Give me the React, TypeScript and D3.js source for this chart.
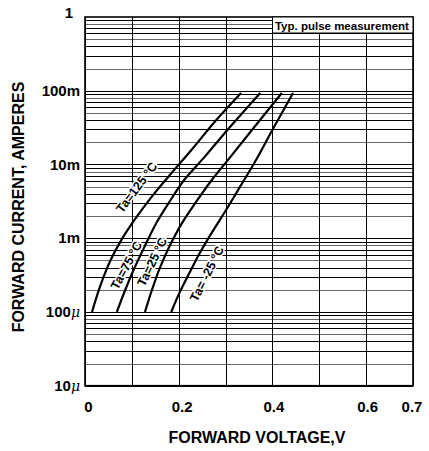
import React, { useRef, useEffect } from "react";
import * as d3 from "d3";

// x ticks (volts) and y ticks (amperes)
const xTickValues = [0, 0.2, 0.4, 0.6, 0.7];
const xGridValues = [0, 0.1, 0.2, 0.3, 0.4, 0.5, 0.6, 0.7];
const yTickValues = [1e-5, 1e-4, 1e-3, 1e-2, 1e-1, 1];
const yTickLabels = ["10", "100", "1m", "10m", "100m", "1"];
const yTickMu = [true, true, false, false, false, false];

// curves: forward voltage (V) / forward current (A)
const v125 = [0.015, 0.032, 0.053, 0.079, 0.109, 0.143, 0.181, 0.228, 0.277, 0.333];
const i125 = [1e-4, 2.2e-4, 4.8e-4, 9.8e-4, 1.9e-3, 3.7e-3, 7.2e-3, 1.6e-2, 3.8e-2, 9.3e-2];
const v75 = [0.068, 0.086, 0.106, 0.128, 0.152, 0.18, 0.212, 0.252, 0.299, 0.374];
const i75 = [1e-4, 2.0e-4, 4.0e-4, 7.9e-4, 1.6e-3, 3.1e-3, 6.2e-3, 1.2e-2, 2.7e-2, 9.3e-2];
const v25 = [0.128, 0.143, 0.16, 0.181, 0.207, 0.237, 0.271, 0.31, 0.361, 0.42];
const i25 = [1e-4, 2.0e-4, 4.0e-4, 7.9e-4, 1.6e-3, 3.1e-3, 6.2e-3, 1.26e-2, 3.2e-2, 9.3e-2];
const vm25 = [0.184, 0.203, 0.224, 0.245, 0.271, 0.299, 0.331, 0.365, 0.403, 0.444];
const im25 = [1e-4, 1.9e-4, 3.5e-4, 6.3e-4, 1.2e-3, 2.3e-3, 5.0e-3, 1.15e-2, 3.2e-2, 9.3e-2];

const seriesNames = ["Ta=125 °C", "Ta=75 °C", "Ta=25 °C", "Ta= -25 °C"];
// where each label sits (in data units) and its slant
const labelV = [0.11, 0.088, 0.143, 0.26];
const labelI = [4.9e-3, 4.3e-4, 4.8e-4, 3.3e-4];
const labelAngle = [-53, -62, -64, -63];

const noteText = "Typ. pulse measurement";

const FONT = "'Liberation Sans', Arial, sans-serif";

const App = () => {
  const svgRef = useRef<SVGSVGElement | null>(null);

  useEffect(() => {
    const svg = d3.select(svgRef.current);
    svg.selectAll("*").remove();

    const width = 429;
    const height = 451;
    const margin = { top: 17, right: 16, bottom: 65.3, left: 85 };

    const x = d3
      .scaleLinear()
      .domain([0, 0.7])
      .range([margin.left, width - margin.right]);
    const y = d3
      .scaleLog()
      .domain([1e-5, 1])
      .range([height - margin.bottom, margin.top]);

    const g = svg.append("g");

    // background
    g.append("rect")
      .attr("x", x(0))
      .attr("y", y(1))
      .attr("width", x(0.7) - x(0))
      .attr("height", y(1e-5) - y(1))
      .attr("fill", "white");

    // horizontal log grid
    const minor: number[] = [];
    for (let e = -5; e < 0; e++) {
      for (let k = 1; k <= 9; k++) minor.push(k * Math.pow(10, e));
    }
    g.append("g")
      .selectAll("line")
      .data(minor)
      .join("line")
      .attr("x1", x(0))
      .attr("x2", x(0.7))
      .attr("y1", (d) => Math.round(y(d)) + 0.5)
      .attr("y2", (d) => Math.round(y(d)) + 0.5)
      .attr("stroke", (d, i) => (i % 3 === 1 ? "#666" : "#000"))
      .attr("stroke-width", 1);

    // vertical grid
    g.append("g")
      .selectAll("line")
      .data(xGridValues)
      .join("line")
      .attr("x1", (d) => Math.round(x(d)) + 0.5)
      .attr("x2", (d) => Math.round(x(d)) + 0.5)
      .attr("y1", y(1))
      .attr("y2", y(1e-5))
      .attr("stroke", "#000")
      .attr("stroke-width", 1);

    // frame
    g.append("rect")
      .attr("x", x(0))
      .attr("y", y(1))
      .attr("width", x(0.7) - x(0))
      .attr("height", y(1e-5) - y(1))
      .attr("fill", "none")
      .attr("stroke", "#000")
      .attr("stroke-width", 1.6);

    // curves
    const line = d3
      .line<[number, number]>()
      .x((d) => x(d[0]))
      .y((d) => y(d[1]))
      .curve(d3.curveCatmullRom.alpha(0.5));

    const curves = [
      [v125, i125],
      [v75, i75],
      [v25, i25],
      [vm25, im25],
    ];
    curves.forEach(([vs, is]) => {
      g.append("path")
        .datum(vs.map((v, i) => [v, is[i]] as [number, number]))
        .attr("fill", "none")
        .attr("stroke", "#000")
        .attr("stroke-width", 2.2)
        .attr("d", line);
    });

    // curve labels, white halo over the grid
    seriesNames.forEach((name, i) => {
      g.append("text")
        .attr(
          "transform",
          `translate(${x(labelV[i])},${y(labelI[i])}) rotate(${labelAngle[i]})`
        )
        .attr("text-anchor", "middle")
        .attr("dy", "0.35em")
        .attr("font-family", FONT)
        .attr("font-weight", "bold")
        .attr("font-size", 12.5)
        .attr("fill", "#000")
        .attr("stroke", "white")
        .attr("stroke-width", 3)
        .attr("stroke-linejoin", "round")
        .attr("paint-order", "stroke")
        .text(name);
    });

    // note box
    const noteX = x(0.4);
    g.append("rect")
      .attr("x", Math.round(noteX) + 0.5)
      .attr("y", y(1))
      .attr("width", x(0.7) - Math.round(noteX) - 0.5)
      .attr("height", 16)
      .attr("fill", "white")
      .attr("stroke", "#000")
      .attr("stroke-width", 1);
    g.append("text")
      .attr("x", noteX + 2.5)
      .attr("y", y(1) + 12.5)
      .attr("font-family", FONT)
      .attr("font-weight", "bold")
      .attr("font-size", 11.5)
      .text(noteText);

    // y tick labels
    const yl = g.append("g");
    yTickValues.forEach((d, i) => {
      const t = yl
        .append("text")
        .attr("x", x(0) - (d === 1 ? 12 : 5))
        .attr("y", y(d) + (d === 1 ? -4 : 0))
        .attr("dy", "0.35em")
        .attr("text-anchor", "end")
        .attr("font-family", FONT)
        .attr("font-weight", "bold")
        .attr("font-size", 15);
      t.append("tspan").text(yTickLabels[i]);
      if (yTickMu[i]) {
        t.append("tspan")
          .attr("font-family", "'DejaVu Serif', serif")
          .attr("font-style", "italic")
          .attr("font-weight", "normal")
          .attr("font-size", 14)
          .text("μ");
      }
    });

    // x tick labels
    g.append("g")
      .selectAll("text")
      .data(xTickValues)
      .join("text")
      .attr("x", (d) => x(d) + (d === 0.7 ? -1 : d < 0.3 ? 3.5 : 1.5))
      .attr("y", 411.5)
      .attr("text-anchor", "middle")
      .attr("font-family", FONT)
      .attr("font-weight", "bold")
      .attr("font-size", 15)
      .text((d) => (d === 0 ? "0" : d.toFixed(1)));

    // axis titles
    g.append("text")
      .attr("x", 257)
      .attr("y", 442.5)
      .attr("text-anchor", "middle")
      .attr("font-family", FONT)
      .attr("font-weight", "bold")
      .attr("font-size", 16)
      .text("FORWARD VOLTAGE,V");

    g.append("text")
      .attr("transform", `translate(24,207) rotate(-90)`)
      .attr("text-anchor", "middle")
      .attr("font-family", FONT)
      .attr("font-weight", "bold")
      .attr("font-size", 16)
      .text("FORWARD CURRENT, AMPERES");
  }, []);

  return (
    <svg
      ref={svgRef}
      width={429}
      height={451}
      style={{ position: "absolute", left: 0, top: 0, background: "white" }}
    ></svg>
  );
};

export default App;
